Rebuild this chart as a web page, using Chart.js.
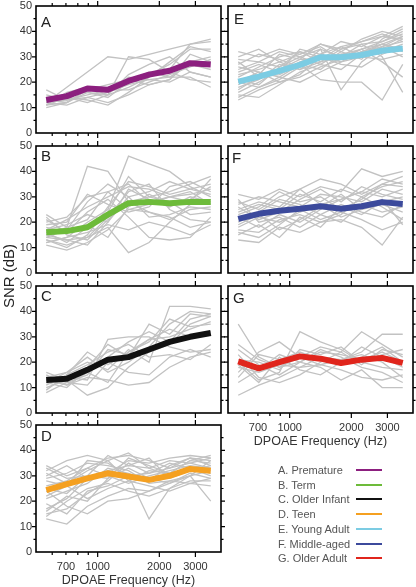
<!DOCTYPE html>
<html>
<head>
<meta charset="utf-8">
<script src="https://cdn.jsdelivr.net/npm/chart.js@4.4.0/dist/chart.umd.min.js"></script>
<style>
  body { margin: 0; background: #fff; font-family: "Liberation Sans", Arial, sans-serif; }
  #wrap { position: relative; width: 416px; height: 587px; overflow: hidden; }
  canvas { position: absolute; }
  .letter { position: absolute; font-size: 15px; line-height: 15px; color: #222; }
  #ylab { position: absolute; left: -41px; top: 267px; width: 100px; height: 18px; line-height: 18px;
          text-align: center; font-size: 15px; color: #222; transform: rotate(-90deg); }
  .lg { position: absolute; left: 278px; height: 14px; line-height: 14px; font-size: 11px; color: #555; white-space: nowrap; }
  .lg i { position: absolute; left: 78px; top: 6px; width: 26px; height: 2px; }
</style>
</head>
<body>
<div id="wrap"></div>
<script>
// DPOAE f2 frequencies (Hz), 1/3 octave steps
const freqs = [561, 707, 891, 1122, 1414, 1782, 2245, 2828, 3564];
const xLabels = [700, 1000, 2000, 3000];
const xMinor = [600, 700, 800, 900];
const xMajor = [1000, 2000, 3000];

const groups = ['A. Premature', 'B. Term', 'C. Older Infant', 'D. Teen', 'E. Young Adult', 'F. Middle-aged', 'G. Older Adult'];
const colors = ['#8c1f7f', '#6dbb3a', '#111111', '#f5a020', '#7ccce3', '#3c4a9c', '#e0251c'];

// group means (SNR dB)
const meanA = [13, 14.5, 17.5, 17, 20.5, 23, 24.5, 27.5, 27];
const meanB = [16, 16.5, 18, 23, 27.5, 28, 27.5, 28, 28];
const meanC = [13, 13.5, 17, 21, 22, 25, 28, 30, 31.5];
const meanD = [24.4, 26.7, 29, 31, 29.7, 28.4, 30, 32.7, 32];
const meanE = [20.2, 22.2, 24.5, 26.8, 29.8, 29.8, 30.7, 32.4, 33.3];
const meanF = [21.3, 23.3, 24.5, 25.3, 26.3, 25.3, 26.3, 27.9, 27.2];
const meanG = [20.3, 17.6, 20, 22.3, 21.4, 19.7, 21, 21.7, 19.7];

// individual subjects
const grayA = [
  [17, 13, 14, 12, 15, 19, 21, 28, 30],
  [11, 16, 18, 16, 22, 21, 20, 24, 22],
  [12, 18, 24, 30, 29, 31, 33, 35, 37],
  [14, 15, 16, 15, 18, 22, 25, 35, 36],
  [10, 12, 17, 18, 21, 23, 27, 33, 33],
  [12, 11, 14, 16, 19, 21, 22, 22, 18],
  [13, 14, 13, 11, 16, 22, 28, 34, 32],
  [11, 12, 16, 14, 20, 24, 22, 27, 25],
  [12, 13, 18, 15, 30, 29, 24, 21, 20],
  [15, 13, 15, 17, 17, 20, 23, 26, 29],
  [11, 14, 12, 15, 23, 27, 30, 24, 22],
  [13, 12, 17, 19, 21, 19, 21, 31, 28]
];
const grayB = [
  [23, 18, 42, 40, 28, 30, 32, 35, 38],
  [12, 14, 20, 25, 46, 43, 40, 34, 30],
  [15, 13, 14, 18, 8, 12, 20, 27, 29],
  [20, 22, 30, 32, 25, 24, 22, 18, 20],
  [13, 10, 15, 26, 36, 34, 31, 33, 35],
  [17, 19, 23, 20, 33, 29, 26, 30, 28],
  [11, 9, 12, 17, 25, 27, 30, 28, 37],
  [18, 16, 24, 29, 22, 14, 13, 14, 22],
  [14, 17, 28, 35, 30, 32, 36, 33, 31],
  [22, 15, 13, 21, 28, 24, 21, 25, 26],
  [16, 12, 18, 24, 38, 30, 28, 23, 24],
  [13, 11, 14, 22, 32, 35, 25, 21, 20],
  [19, 20, 31, 27, 24, 26, 34, 36, 32],
  [12, 14, 16, 19, 17, 20, 18, 15, 19],
  [15, 18, 21, 32, 35, 28, 30, 32, 27],
  [21, 16, 19, 14, 26, 31, 27, 29, 34],
  [14, 13, 11, 20, 30, 22, 23, 26, 25],
  [17, 21, 26, 30, 34, 33, 30, 31, 33]
];
const grayC = [
  [8, 12, 15, 25, 23, 29, 30, 33, 36],
  [14, 16, 20, 17, 25, 20, 42, 42, 41],
  [16, 13, 7, 10, 18, 24, 27, 35, 38],
  [12, 10, 17, 22, 28, 32, 28, 37, 39],
  [11, 15, 24, 19, 24, 29, 33, 30, 32],
  [13, 14, 13, 29, 30, 30, 26, 24, 25],
  [15, 11, 14, 13, 11, 12, 18, 22, 24],
  [10, 13, 18, 27, 22, 35, 31, 39, 38],
  [12, 16, 22, 16, 20, 26, 35, 40, 39],
  [14, 12, 11, 20, 16, 15, 22, 25, 22],
  [9, 15, 19, 24, 27, 22, 23, 21, 27],
  [13, 11, 16, 12, 24, 28, 37, 34, 35]
];
const grayD = [
  [34, 30, 33, 37, 38, 36, 33, 35, 37],
  [13, 11, 18, 22, 25, 24, 28, 27, 29],
  [28, 26, 36, 35, 30, 13, 25, 30, 32],
  [16, 22, 20, 29, 37, 34, 31, 36, 35],
  [32, 36, 38, 36, 39, 33, 30, 33, 30],
  [24, 18, 15, 20, 21, 24, 27, 30, 20],
  [21, 24, 27, 33, 31, 28, 34, 37, 36],
  [30, 34, 29, 31, 36, 35, 37, 38, 37],
  [14, 20, 25, 27, 24, 22, 25, 28, 28],
  [26, 28, 33, 30, 27, 30, 32, 34, 33],
  [33, 29, 30, 38, 34, 37, 29, 32, 34],
  [19, 15, 24, 26, 30, 31, 35, 33, 31],
  [29, 31, 35, 34, 32, 27, 28, 30, 36],
  [22, 26, 21, 25, 28, 26, 24, 27, 26],
  [17, 21, 29, 32, 34, 33, 36, 35, 33],
  [31, 27, 32, 36, 28, 32, 31, 36, 38],
  [25, 23, 30, 29, 33, 29, 27, 31, 29],
  [15, 17, 23, 28, 35, 31, 33, 37, 34]
];
const grayE = [
  [32, 30, 33, 31, 35, 33, 36, 38, 42],
  [13, 17, 20, 22, 26, 29, 32, 35, 38],
  [25, 28, 26, 30, 33, 17, 28, 34, 36],
  [20, 18, 22, 27, 21, 20, 20, 13, 27],
  [28, 22, 24, 33, 31, 29, 33, 36, 40],
  [18, 21, 27, 25, 28, 33, 35, 30, 16],
  [16, 20, 25, 29, 29, 31, 30, 32, 35],
  [30, 33, 28, 25, 31, 36, 34, 38, 37],
  [22, 26, 30, 32, 28, 30, 33, 35, 33],
  [15, 14, 19, 24, 27, 25, 31, 34, 38],
  [26, 24, 22, 20, 24, 28, 30, 29, 31],
  [19, 23, 31, 29, 35, 32, 29, 37, 41],
  [24, 27, 24, 28, 31, 34, 36, 39, 36],
  [21, 19, 26, 32, 30, 27, 26, 31, 34],
  [27, 31, 29, 26, 33, 30, 35, 36, 39],
  [17, 22, 23, 27, 25, 31, 33, 28, 22],
  [23, 25, 28, 31, 34, 29, 31, 35, 32],
  [14, 18, 21, 26, 29, 34, 30, 33, 37],
  [29, 28, 32, 30, 27, 32, 37, 40, 38],
  [20, 24, 20, 23, 30, 28, 32, 34, 30]
];
const grayF = [
  [31, 29, 33, 30, 34, 32, 41, 38, 40],
  [13, 12, 18, 16, 20, 21, 18, 11, 22],
  [24, 27, 25, 31, 28, 33, 30, 34, 36],
  [18, 22, 20, 24, 27, 22, 25, 29, 19],
  [28, 25, 30, 33, 37, 35, 31, 35, 38],
  [15, 19, 14, 22, 18, 26, 23, 28, 30],
  [22, 18, 23, 20, 25, 29, 32, 30, 33],
  [27, 30, 28, 26, 31, 30, 28, 33, 31],
  [20, 24, 29, 27, 23, 20, 27, 24, 26],
  [16, 14, 19, 25, 21, 24, 21, 17, 20],
  [26, 21, 24, 29, 33, 28, 34, 31, 29],
  [19, 23, 17, 21, 26, 31, 25, 27, 24],
  [23, 26, 32, 28, 30, 25, 29, 35, 34],
  [29, 20, 22, 18, 23, 27, 24, 22, 27],
  [17, 16, 21, 23, 20, 23, 30, 26, 21],
  [25, 28, 26, 33, 27, 29, 32, 37, 35]
];
const grayG = [
  [35, 22, 18, 20, 24, 23, 21, 24, 20],
  [7, 11, 14, 18, 19, 17, 14, 13, 15],
  [16, 24, 28, 22, 19, 21, 24, 31, 31],
  [20, 13, 16, 32, 28, 25, 20, 18, 17],
  [23, 14, 12, 15, 20, 24, 32, 27, 22],
  [21, 20, 17, 25, 23, 26, 20, 23, 25],
  [18, 16, 19, 18, 22, 21, 23, 20, 14],
  [25, 19, 15, 20, 25, 22, 18, 16, 12],
  [14, 23, 21, 24, 21, 19, 22, 26, 20],
  [12, 17, 23, 20, 18, 13, 17, 10, 10],
  [27, 21, 18, 22, 26, 24, 19, 25, 23],
  [19, 12, 22, 17, 15, 20, 26, 22, 18]
];

const panels = [
  { letter: 'A', mean: meanA, gray: grayA, col: 0, row: 0, lx: 41, ly: 14 },
  { letter: 'B', mean: meanB, gray: grayB, col: 0, row: 1, lx: 41, ly: 148 },
  { letter: 'C', mean: meanC, gray: grayC, col: 0, row: 2, lx: 41, ly: 288 },
  { letter: 'D', mean: meanD, gray: grayD, col: 0, row: 3, lx: 41, ly: 428, xlab: true },
  { letter: 'E', mean: meanE, gray: grayE, col: 1, row: 0, lx: 234, ly: 11 },
  { letter: 'F', mean: meanF, gray: grayF, col: 1, row: 1, lx: 232, ly: 150 },
  { letter: 'G', mean: meanG, gray: grayG, col: 1, row: 2, lx: 233, ly: 290, xlab: true }
];

const rowTop = [6, 146, 286, 425];
const plotH = 127;

// frame + outward tick marks on all four sides
const frameTicks = {
  id: 'frameTicks',
  afterDraw(chart) {
    const { ctx, chartArea: a, scales: { x, y } } = chart;
    ctx.save();
    ctx.strokeStyle = '#000';
    ctx.lineWidth = 1.6;
    ctx.strokeRect(a.left, a.top, a.right - a.left, a.bottom - a.top);
    ctx.lineWidth = 1.2;
    ctx.beginPath();
    xMinor.concat(xMajor).forEach(v => {
      const px = x.getPixelForValue(v);
      const len = xMajor.includes(v) ? 5 : 3;
      ctx.moveTo(px, a.top); ctx.lineTo(px, a.top - len);
      ctx.moveTo(px, a.bottom); ctx.lineTo(px, a.bottom + len);
    });
    for (let v = 5; v < 50; v += 5) {
      const py = y.getPixelForValue(v);
      const len = v % 10 === 0 ? 4 : 2.5;
      ctx.moveTo(a.left, py); ctx.lineTo(a.left - len, py);
      ctx.moveTo(a.right, py); ctx.lineTo(a.right + len, py);
    }
    ctx.stroke();
    ctx.restore();
  }
};

const wrap = document.getElementById('wrap');

panels.forEach((p, k) => {
  const left = p.col === 0 ? 0 : 222;
  const width = p.col === 0 ? 228 : 194;
  const yW = p.col === 0 ? 36 : 6;
  const padR = p.col === 0 ? 7 : 3;
  const bottomExtra = p.xlab ? 36 : 7;
  const top = rowTop[p.row] - 6;
  const height = 6 + plotH + bottomExtra;

  const cv = document.createElement('canvas');
  cv.width = width; cv.height = height;
  cv.style.left = left + 'px'; cv.style.top = top + 'px';
  wrap.appendChild(cv);

  const pts = arr => freqs.map((f, i) => ({ x: f, y: arr[i] }));
  const datasets = [{
    data: pts(p.mean), borderColor: colors[k], borderWidth: 6, order: 0,
    borderJoinStyle: 'round', borderCapStyle: 'butt'
  }].concat(p.gray.map(g => ({
    data: pts(g), borderColor: '#c2c2c2', borderWidth: 1.3, order: 1
  })));

  new Chart(cv, {
    type: 'line',
    data: { datasets },
    options: {
      responsive: false,
      animation: false,
      devicePixelRatio: 1,
      layout: { padding: { top: 6, right: padR, left: 0, bottom: p.xlab ? 0 : 7 } },
      elements: { point: { radius: 0 }, line: { tension: 0 } },
      plugins: { legend: { display: false }, tooltip: { enabled: false } },
      scales: {
        x: {
          type: 'logarithmic', min: 500, max: 4000,
          grid: { display: false, drawTicks: false }, border: { display: false },
          afterBuildTicks: s => { s.ticks = xLabels.map(v => ({ value: v })); },
          ticks: { display: !!p.xlab, autoSkip: false, maxRotation: 0, padding: 8, color: '#333',
                   font: { size: 11 }, callback: v => String(v) },
          title: { display: !!p.xlab, text: 'DPOAE Frequency (Hz)', color: '#333',
                   font: { size: 12.5 }, padding: 0 },
          afterFit: s => { s.height = p.xlab ? 36 : 0; s.paddingLeft = 0; s.paddingRight = 0; }
        },
        y: {
          min: 0, max: 50,
          grid: { display: false, drawTicks: false }, border: { display: false },
          ticks: { display: p.col === 0, stepSize: 10, padding: 4, color: '#333', font: { size: 11 } },
          afterFit: s => { s.width = yW; s.paddingTop = 0; s.paddingBottom = 0; }
        }
      }
    },
    plugins: [frameTicks]
  });

  const L = document.createElement('div');
  L.className = 'letter';
  L.textContent = p.letter;
  L.style.left = p.lx + 'px';
  L.style.top = p.ly + 'px';
  wrap.appendChild(L);
});

const yl = document.createElement('div');
yl.id = 'ylab';
yl.textContent = 'SNR (dB)';
wrap.appendChild(yl);

groups.forEach((g, i) => {
  const d = document.createElement('div');
  d.className = 'lg';
  d.style.top = (463 + i * 14.7) + 'px';
  d.textContent = g;
  const ln = document.createElement('i');
  ln.style.background = colors[i];
  d.appendChild(ln);
  wrap.appendChild(d);
});
</script>
</body>
</html>
